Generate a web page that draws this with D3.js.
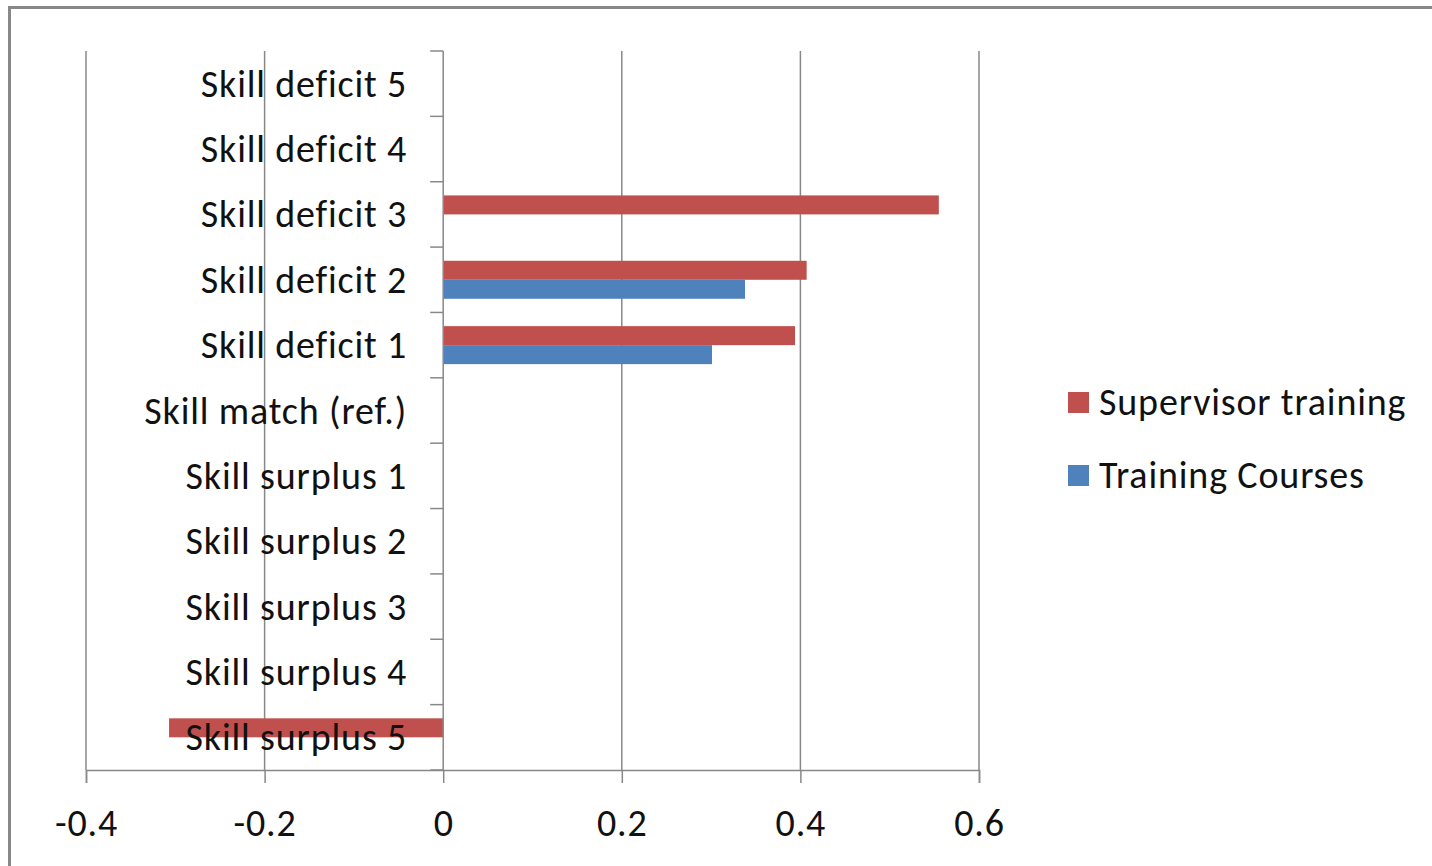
<!DOCTYPE html>
<html>
<head>
<meta charset="utf-8">
<script src="https://cdn.jsdelivr.net/npm/d3@7"></script>
<style>
  html, body { margin: 0; padding: 0; background: #fff; }
  svg { display: block; }
  text { font-family: Carlito, Lato, "Open Sans", sans-serif; fill: #111; letter-spacing: 0.85px; }
</style>
</head>
<body>
<svg id="chart" width="1432" height="866"></svg>
<script>
// Categories, top to bottom
const categories = [
  "Skill deficit 5", "Skill deficit 4", "Skill deficit 3", "Skill deficit 2",
  "Skill deficit 1", "Skill match (ref.)", "Skill surplus 1", "Skill surplus 2",
  "Skill surplus 3", "Skill surplus 4", "Skill surplus 5"
];
// Coefficients (null = not significant / not shown)
const supervisorTraining = [null, null, 0.555, 0.407, 0.394, null, null, null, null, null, -0.307];
const trainingCourses    = [null, null, null, 0.338, 0.301, null, null, null, null, null, null];
const seriesNames = ["Supervisor training", "Training Courses"];
const seriesColors = ["#C0504D", "#4F81BD"];
const xTicks = [-0.4, -0.2, 0, 0.2, 0.4, 0.6];
const xTickLabels = ["-0.4", "-0.2", "0", "0.2", "0.4", "0.6"];

const svg = d3.select("#chart");
const W = 1432, H = 866;
const plot = { left: 86, right: 979, top: 51, bottom: 770 };
const gridColor = "#888";
const fontSize = 38;

// Outer chart frame
svg.append("rect")
  .attr("x", 9.5).attr("y", 7.5)
  .attr("width", W + 20).attr("height", H + 20)
  .attr("fill", "#fff").attr("stroke", gridColor).attr("stroke-width", 3);

const x = d3.scaleLinear().domain([-0.4, 0.6]).range([plot.left, plot.right]);
const y = d3.scaleBand().domain(categories).range([plot.top, plot.bottom]).padding(0);
const clusterH = 38;
const ySub = d3.scaleBand().domain(seriesNames).range([0, clusterH]).padding(0);

// Vertical gridlines
svg.append("g").selectAll("line")
  .data(xTicks.filter(t => t !== 0))
  .join("line")
  .attr("x1", d => x(d)).attr("x2", d => x(d))
  .attr("y1", plot.top).attr("y2", plot.bottom)
  .attr("stroke", gridColor).attr("stroke-width", 1.5);

// Bars
const rows = categories.map((c, i) => ({
  cat: c,
  vals: [supervisorTraining[i], trainingCourses[i]]
}));
const barG = svg.append("g");
rows.forEach(r => {
  const cy = y(r.cat) + y.bandwidth() / 2;
  r.vals.forEach((v, j) => {
    if (v === null) return;
    barG.append("rect")
      .attr("x", x(Math.min(0, v)))
      .attr("width", Math.abs(x(v) - x(0)))
      .attr("y", cy - clusterH / 2 + ySub(seriesNames[j]))
      .attr("height", ySub.bandwidth())
      .attr("fill", seriesColors[j]);
  });
});

// Category axis at x = 0
const yAxisG = svg.append("g");
yAxisG.append("line")
  .attr("x1", x(0)).attr("x2", x(0))
  .attr("y1", plot.top).attr("y2", plot.bottom)
  .attr("stroke", gridColor).attr("stroke-width", 1.5);
const boundaries = categories.map(c => y(c)).concat([plot.bottom]);
yAxisG.selectAll("line.tick")
  .data(boundaries)
  .join("line").attr("class", "tick")
  .attr("x1", x(0) - 13).attr("x2", x(0))
  .attr("y1", d => d).attr("y2", d => d)
  .attr("stroke", gridColor).attr("stroke-width", 1.5);

// Value axis along the bottom
const xAxis = d3.axisBottom(x)
  .tickValues(xTicks)
  .tickFormat((d, i) => xTickLabels[i])
  .tickSize(13)
  .tickPadding(26);
const xAxisG = svg.append("g")
  .attr("transform", `translate(0,${plot.bottom})`)
  .call(xAxis);
xAxisG.select(".domain").attr("stroke", gridColor).attr("stroke-width", 1.5);
xAxisG.selectAll(".tick line").attr("stroke", gridColor).attr("stroke-width", 1.5);
xAxisG.selectAll(".tick text")
  .attr("font-size", fontSize)
  .attr("font-family", "Carlito, Lato, 'Open Sans', sans-serif")
  .attr("fill", "#111");

// Category labels
svg.append("g").selectAll("text")
  .data(categories)
  .join("text")
  .attr("x", x(0) - 36)
  .attr("y", d => y(d) + y.bandwidth() / 2 + 13)
  .attr("text-anchor", "end")
  .attr("font-size", fontSize)
  .text(d => d);

// Legend
const legend = svg.append("g").attr("transform", "translate(1068,392)");
seriesNames.forEach((name, i) => {
  const g = legend.append("g").attr("transform", `translate(0,${i * 73})`);
  g.append("rect").attr("width", 21).attr("height", 21).attr("fill", seriesColors[i]);
  g.append("text").attr("x", 31).attr("y", 23).attr("font-size", fontSize).text(name);
});
</script>
</body>
</html>
